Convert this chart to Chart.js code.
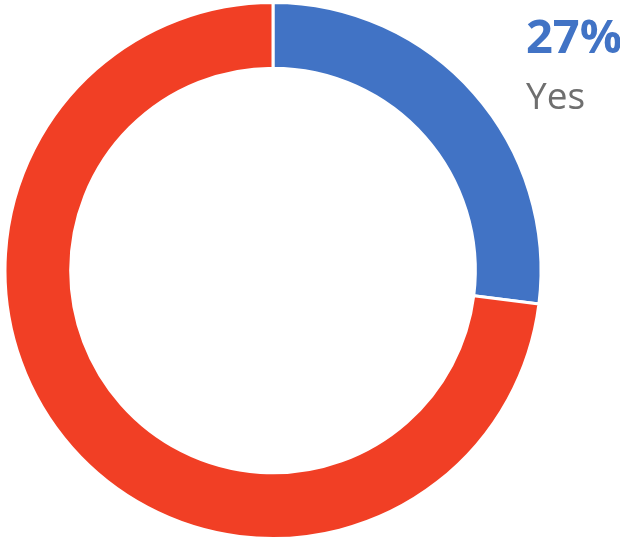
<!DOCTYPE html>
<html>
<head>
<meta charset="utf-8">
<script src="https://cdn.jsdelivr.net/npm/chart.js@4/dist/chart.umd.min.js"></script>
<style>
  html, body { margin: 0; padding: 0; background: #fff; }
  #wrap { position: relative; width: 620px; height: 540px; }
  .lbl { position: absolute; left: 526px; font-family: "Open Sans", sans-serif; line-height: 1; }
  #pct { top: 12px; font-size: 47px; font-weight: 700; color: #4173C5; }
  #name { top: 76px; font-size: 37px; color: #6f6f6f; }
</style>
</head>
<body>
<div id="wrap">
  <canvas id="donut" width="620" height="540"></canvas>
  <div class="lbl" id="pct"></div>
  <div class="lbl" id="name"></div>
</div>
<script>
// share of answers, yes vs no
const labels = ['Yes', 'No'];
const values = [27, 73];
const colors = ['#4173C5', '#F13F25'];

document.getElementById('pct').textContent = values[0] + '%';
document.getElementById('name').textContent = labels[0];

new Chart(document.getElementById('donut').getContext('2d'), {
    type: 'doughnut',
    data: {
        labels: labels,
        datasets: [{
            data: values,
            backgroundColor: colors,
            borderColor: '#ffffff',
            borderWidth: 3,
        }],
    },
    options: {
        responsive: false,
        animation: false,
        cutout: '75.5%',
        layout: { padding: { left: 3, right: 77, top: 1, bottom: 0 } },
        plugins: {
            legend: { display: false },
            tooltip: { enabled: false },
        },
    },
});
</script>
</body>
</html>
